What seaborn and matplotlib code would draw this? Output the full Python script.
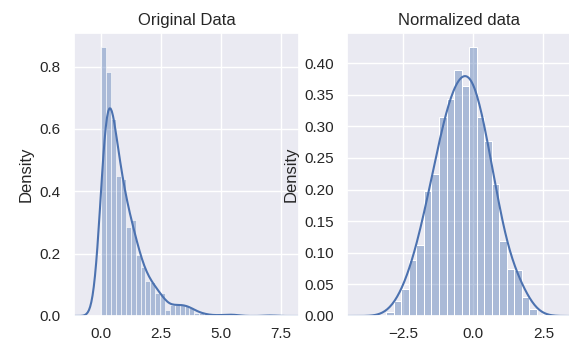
import numpy as np
import pandas as pd
import matplotlib
matplotlib.use("Agg")
import matplotlib.pyplot as plt
from matplotlib.ticker import MultipleLocator
import seaborn as sns

# ---- data ----
orig_range = (0.02, 7.15)          # histogram span of the original data
orig_heights = [0.864, 0.784, 0.633, 0.449, 0.440, 0.284, 0.307, 0.196, 0.156,
                0.112, 0.108, 0.073, 0.073, 0.019, 0.035, 0.035, 0.035, 0.035,
                0.026, 0.010, 0.010, 0.005, 0.0, 0.005, 0.0, 0.005, 0.005,
                0.005, 0.0, 0.0, 0.0, 0.0, 0.0, 0.0, 0.005]

norm_range = (-3.10, 2.26)         # histogram span of the normalized data
norm_heights = [0.006, 0.024, 0.043, 0.089, 0.113, 0.197, 0.225, 0.314, 0.343,
                0.389, 0.363, 0.426, 0.314, 0.277, 0.208, 0.118, 0.075, 0.073,
                0.030, 0.011]

titles = ["Original Data", "Normalized data"]

sns.set_theme(context="notebook", style="darkgrid")
plt.rcParams["font.family"] = ["Liberation Sans", "DejaVu Sans"]

color = sns.color_palette("deep")[0]

fig = plt.figure(figsize=(5.69, 3.40), dpi=100)
ax1 = fig.add_axes([0.130, 0.0706, 0.3954, 0.832])
ax2 = fig.add_axes([0.610, 0.0706, 0.392, 0.832])


def draw(ax, rng, heights, title, xlim, bw):
    n = len(heights)
    edges = np.linspace(rng[0], rng[1], n + 1)
    centers = (edges[:-1] + edges[1:]) / 2
    df = pd.DataFrame({"x": centers, "h": heights})
    sns.histplot(data=df, x="x", weights="h", bins=n, binrange=rng,
                 stat="count", color=color, alpha=0.4, ax=ax)
    sns.kdeplot(data=df[df["h"] > 0], x="x", weights="h", bw_method=bw,
                cut=3, color=color, linewidth=1.5, ax=ax)
    ax.set_title(title, fontsize=12)
    ax.set_xlabel("")
    ax.set_ylabel("Density")
    ax.set_xlim(*xlim)
    ax.xaxis.set_major_locator(MultipleLocator(2.5))
    ax.tick_params(axis="x", pad=plt.rcParams["xtick.major.pad"] - 1.5)


draw(ax1, orig_range, orig_heights, titles[0], (-1.125, 8.25), 0.28)
draw(ax2, norm_range, norm_heights, titles[1], (-4.5, 3.45), 0.38)

fig.savefig("out.png", dpi=100)
